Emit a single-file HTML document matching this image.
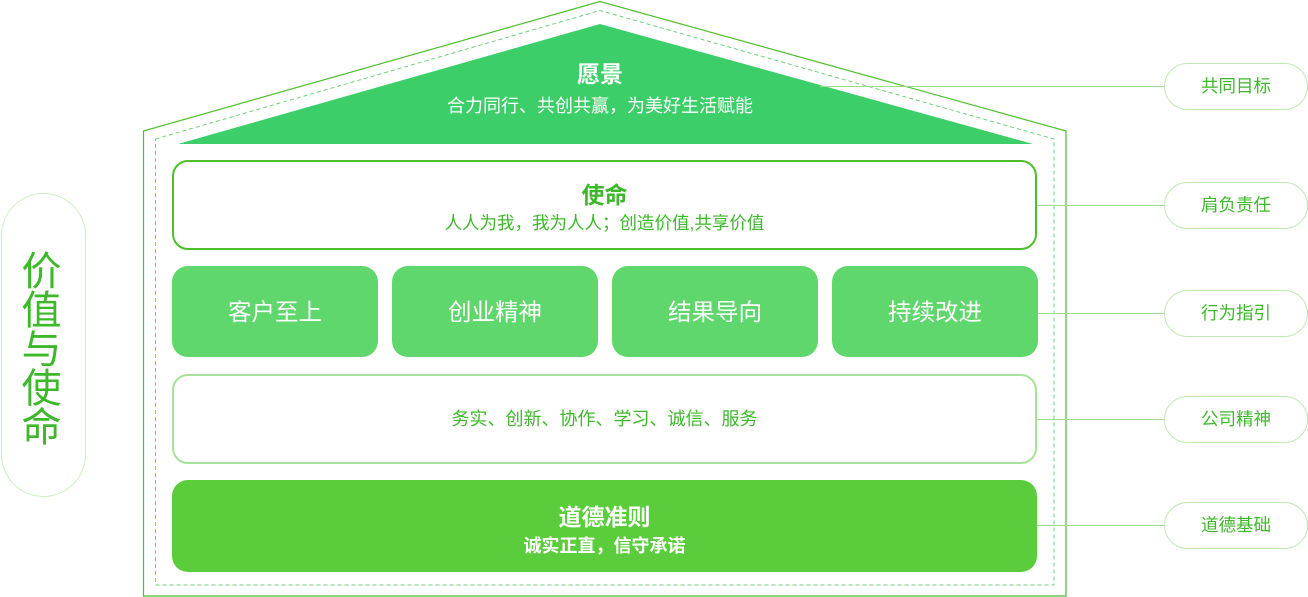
<!DOCTYPE html>
<html><head><meta charset="utf-8"><style>
body{margin:0;width:1308px;height:597px;position:relative;background:#fff;font-family:"Liberation Sans","Noto Sans CJK SC",sans-serif;overflow:hidden}
.a{position:absolute;box-sizing:border-box;text-align:center}
.pill{border:1.5px solid #bfe8b2;border-radius:24px;width:144px;height:47px;left:1164px;line-height:44px;color:#3db82a;font-size:17.5px}
.v{background:#5fd76c;border-radius:16px;top:266px;height:91px;width:206px;color:#fff;font-size:23.5px;line-height:93px}
</style></head><body>
<svg class="a" style="left:0;top:0" width="1308" height="597">
<polygon points="143.5,131 600,1.5 1066,131 1066,596 143.5,596" fill="none" stroke="#4cbf2a" stroke-width="1.2"/>
<polygon points="155.5,139 600,10.5 1054,139 1054,585 155.5,585" fill="none" stroke="#6fd07a" stroke-width="1" stroke-dasharray="4,3"/>
<polygon points="178,144 600,24 1033,144" fill="#3ccf69"/>
<g stroke="#9fdc8c" stroke-width="1">
<line x1="820" y1="86.5" x2="1164" y2="86.5"/>
<line x1="1037" y1="205.5" x2="1164" y2="205.5"/>
<line x1="1037" y1="313.5" x2="1164" y2="313.5"/>
<line x1="1037" y1="419.5" x2="1164" y2="419.5"/>
<line x1="1037" y1="525.5" x2="1164" y2="525.5"/>
</g>
</svg>
<div class="a" style="left:400px;top:55px;width:400px;color:#fff;font-size:23px;font-weight:bold">愿景</div>
<div class="a" style="left:400px;top:92px;width:400px;color:#fff;font-size:18px">合力同行、共创共赢，为美好生活赋能</div>
<div class="a" style="left:172px;top:160px;width:865px;height:90px;border:2px solid #4cbf2a;border-radius:16px;color:#3db82a">
<div style="font-size:23px;font-weight:bold;margin-top:14px">使命</div>
<div style="font-size:17.5px;margin-top:0px">人人为我，我为人人；创造价值,共享价值</div></div>
<div class="a v" style="left:172px">客户至上</div>
<div class="a v" style="left:392px">创业精神</div>
<div class="a v" style="left:612px">结果导向</div>
<div class="a v" style="left:832px">持续改进</div>
<div class="a" style="left:172px;top:374px;width:865px;height:90px;border:2px solid #a6e29a;border-radius:16px;color:#3db82a;font-size:18px;line-height:86px">务实、创新、协作、学习、诚信、服务</div>
<div class="a" style="left:172px;top:480px;width:865px;height:92px;background:#5bcc3b;border-radius:16px;color:#fff">
<div style="font-size:23px;font-weight:bold;margin-top:18px">道德准则</div>
<div style="font-size:18px;font-weight:bold;margin-top:0px">诚实正直，信守承诺</div></div>
<div class="a pill" style="top:63px">共同目标</div>
<div class="a pill" style="top:182px">肩负责任</div>
<div class="a pill" style="top:290px">行为指引</div>
<div class="a pill" style="top:396px">公司精神</div>
<div class="a pill" style="top:502px">道德基础</div>
<div class="a" style="left:1px;top:193px;width:85px;height:304px;border:1.5px solid #cdeec2;border-radius:43px;color:#3db82a;font-size:40px;line-height:39px;padding-top:59px;padding-right:4px">价<br>值<br>与<br>使<br>命</div>
</body></html>
